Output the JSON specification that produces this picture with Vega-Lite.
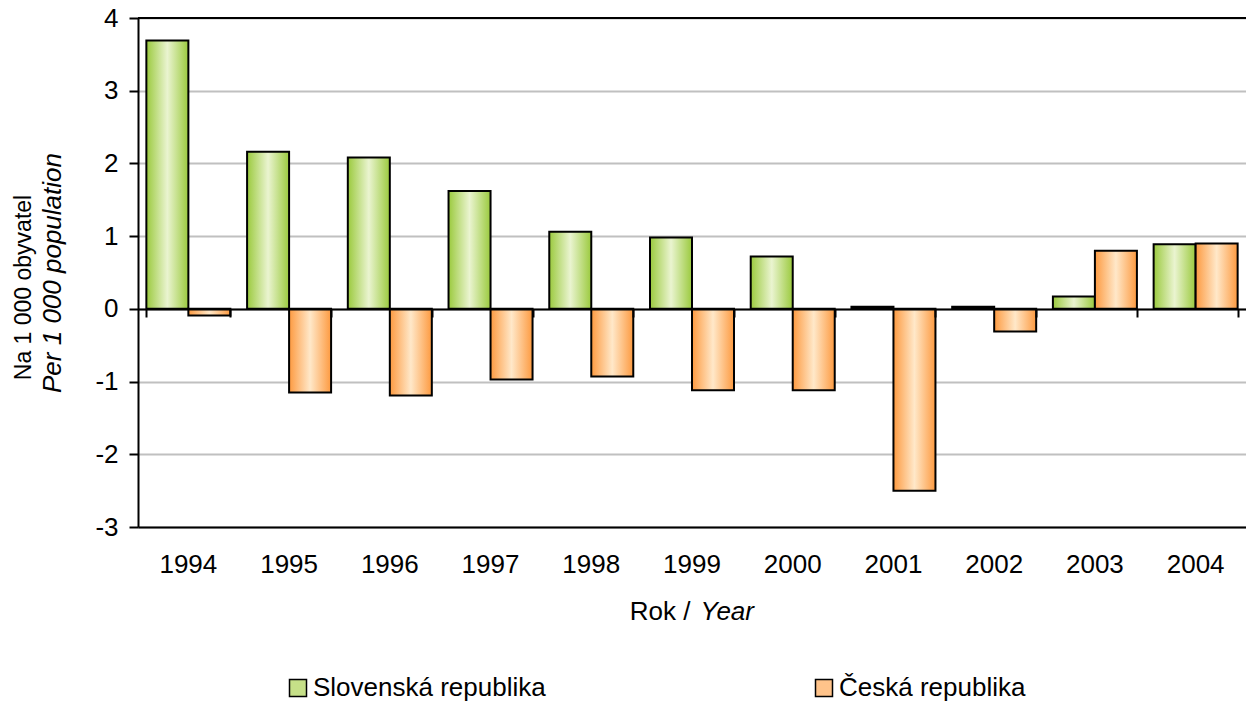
{
  "$schema": "https://vega.github.io/schema/vega-lite/v6.json",
  "width": 1108,
  "height": 509,
  "autosize": {"type": "none"},
  "padding": {"left": 138, "top": 18, "right": 0, "bottom": 175},
  "background": "white",
  "config": {
    "view": {"stroke": null},
    "font": "Liberation Sans",
    "axis": {"labelFont": "Liberation Sans", "titleFont": "Liberation Sans", "labelColor": "black", "titleColor": "black", "titleFontWeight": "normal"}
  },
  "data": {
    "values": [
      {"year": "1994", "series": "Slovenská republika", "value": 3.69},
      {"year": "1995", "series": "Slovenská republika", "value": 2.16},
      {"year": "1996", "series": "Slovenská republika", "value": 2.08},
      {"year": "1997", "series": "Slovenská republika", "value": 1.62},
      {"year": "1998", "series": "Slovenská republika", "value": 1.06},
      {"year": "1999", "series": "Slovenská republika", "value": 0.98},
      {"year": "2000", "series": "Slovenská republika", "value": 0.72},
      {"year": "2001", "series": "Slovenská republika", "value": 0.03},
      {"year": "2002", "series": "Slovenská republika", "value": 0.03},
      {"year": "2003", "series": "Slovenská republika", "value": 0.17},
      {"year": "2004", "series": "Slovenská republika", "value": 0.89},
      {"year": "1994", "series": "Česká republika", "value": -0.09},
      {"year": "1995", "series": "Česká republika", "value": -1.15},
      {"year": "1996", "series": "Česká republika", "value": -1.19},
      {"year": "1997", "series": "Česká republika", "value": -0.97},
      {"year": "1998", "series": "Česká republika", "value": -0.93},
      {"year": "1999", "series": "Česká republika", "value": -1.12},
      {"year": "2000", "series": "Česká republika", "value": -1.12},
      {"year": "2001", "series": "Česká republika", "value": -2.5},
      {"year": "2002", "series": "Česká republika", "value": -0.31},
      {"year": "2003", "series": "Česká republika", "value": 0.8},
      {"year": "2004", "series": "Česká republika", "value": 0.9}
    ]
  },
  "resolve": {"axis": {"x": "independent", "y": "independent"}},
  "layer": [
    {
      "transform": [{"filter": "datum.series == 'Slovenská republika'"}],
      "mark": {"type": "bar", "stroke": "black", "strokeWidth": 2,
        "fill": {"gradient": "linear", "x1": 0, "y1": 0, "x2": 1, "y2": 0, "stops": [{"offset": 0, "color": "#9bca3e"}, {"offset": 0.5, "color": "#eaf4d0"}, {"offset": 1, "color": "#9bca3e"}]}},
      "encoding": {
        "x": {
          "field": "year", "type": "nominal",
          "scale": {"paddingInner": 0.166, "paddingOuter": 0.083},
          "axis": {
            "orient": "bottom", "domainColor": "black", "domainWidth": 2, "ticks": false,
            "labelAngle": 0, "labelFontSize": 26, "labelPadding": 24,
            "title": "Rok /", "titleFontSize": 26, "titleAlign": "right", "titleAnchor": "start",
            "titleX": 552, "titleY": 92, "titleBaseline": "alphabetic"
          }
        },
        "xOffset": {"field": "series", "type": "nominal", "scale": {"domain": ["Slovenská republika", "Česká republika"], "paddingInner": 0, "paddingOuter": 0}},
        "y": {
          "field": "value", "type": "quantitative",
          "scale": {"domain": [-3, 4], "nice": false},
          "axis": {
            "orient": "left", "values": [-3, -2, -1, 0, 1, 2, 3, 4],
            "labelExpr": "toString(datum.value)",
            "domainColor": "black", "domainWidth": 2, "tickColor": "black", "tickWidth": 2, "tickSize": 9,
            "labelFontSize": 26, "labelPadding": 11,
            "grid": true, "gridColor": "#c0c0c0", "gridWidth": 2,
            "title": "Na 1 000 obyvatel", "titleFontSize": 23, "titlePadding": 59, "titleY": 269
          }
        }
      }
    },
    {
      "transform": [{"filter": "datum.series == 'Česká republika'"}],
      "mark": {"type": "bar", "stroke": "black", "strokeWidth": 2,
        "fill": {"gradient": "linear", "x1": 0, "y1": 0, "x2": 1, "y2": 0, "stops": [{"offset": 0, "color": "#fd9a40"}, {"offset": 0.5, "color": "#ffe8c9"}, {"offset": 1, "color": "#fd9a40"}]}},
      "encoding": {
        "x": {"field": "year", "type": "nominal", "axis": null},
        "xOffset": {"field": "series", "type": "nominal"},
        "y": {"field": "value", "type": "quantitative", "axis": null}
      }
    },
    {
      "mark": {"type": "bar", "opacity": 0, "stroke": "black", "strokeWidth": 1.5},
      "encoding": {
        "x": {
          "field": "year", "type": "nominal",
          "axis": {
            "orient": "bottom", "offset": -218, "zindex": 1, "domainColor": "black", "domainWidth": 2,
            "tickBand": "extent", "tickColor": "black", "tickWidth": 2, "tickSize": 8, "labels": false,
            "title": "Year", "titleFontSize": 26, "titleFontStyle": "italic", "titleAlign": "left", "titleAnchor": "start",
            "titleX": 562, "titleY": 310, "titleBaseline": "alphabetic"
          }
        },
        "xOffset": {"field": "series", "type": "nominal"},
        "y": {
          "field": "value", "type": "quantitative",
          "axis": {
            "orient": "left", "domain": false, "ticks": false, "labels": false, "grid": false,
            "title": "Per 1 000 population", "titleFontSize": 26, "titleFontStyle": "italic", "titlePadding": 73
          }
        },
        "color": {
          "field": "series", "type": "nominal",
          "scale": {"domain": ["Slovenská republika", "Česká republika"], "range": ["#c6e088", "#ffc38a"]},
          "legend": {
            "orient": "none", "direction": "horizontal", "legendX": 147, "legendY": 657, "padding": 0,
            "title": null, "symbolType": "square", "symbolSize": 289, "symbolOpacity": 1,
            "symbolStrokeColor": "black", "symbolStrokeWidth": 1.5,
            "labelFontSize": 26, "labelFont": "Liberation Sans", "labelColor": "black", "labelOffset": 2, "labelLimit": 400,
            "columnPadding": 265
          }
        }
      }
    },
    {
      "mark": {"type": "rule", "color": "black", "strokeWidth": 2},
      "encoding": {"y": {"datum": 4, "axis": null}}
    }
  ]
}
